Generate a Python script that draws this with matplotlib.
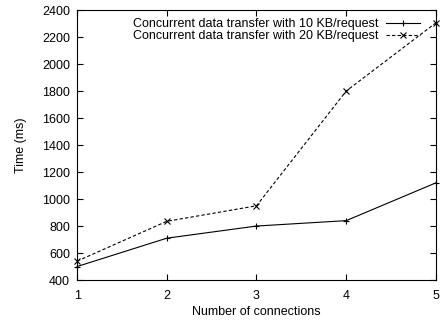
import matplotlib
matplotlib.use("Agg")
import matplotlib.pyplot as plt

# data
connections = [1, 2, 3, 4, 5]
time_10kb = [500, 710, 800, 840, 1120]
time_20kb = [540, 835, 950, 1800, 2305]
label_10kb = "Concurrent data transfer with 10 KB/request"
label_20kb = "Concurrent data transfer with 20 KB/request"

plt.rcParams['font.family'] = ['Liberation Sans', 'DejaVu Sans']
plt.rcParams['font.size'] = 9

fig = plt.figure(figsize=(4.43, 3.23), dpi=100)
ax = fig.add_axes([0.174, 0.133, 0.81, 0.836])

ax.plot(connections, time_10kb, color='black', lw=0.8, marker='+', ms=5,
        mew=0.8, label=label_10kb, clip_on=False)
ax.plot(connections, time_20kb, color='black', lw=0.8, ls=(0, (3, 2)),
        marker='x', ms=4.5, mew=0.8, label=label_20kb, clip_on=False)

ax.set_xlim(1, 5)
ax.set_ylim(400, 2400)
ax.set_xticks(connections)
ax.set_yticks(range(400, 2401, 200))
ax.tick_params(direction='in', top=True, right=True, length=4, width=0.8)
ax.tick_params(axis='x', pad=7)
ax.tick_params(axis='y', pad=5)
for s in ax.spines.values():
    s.set_linewidth(0.8)

ax.set_xlabel("Number of connections", labelpad=3)
ax.set_ylabel("Time (ms)", labelpad=11)

ax.legend(loc='upper right', frameon=False, markerfirst=False,
          handlelength=2.7, handletextpad=0.6, labelspacing=0.0,
          borderaxespad=0.25, bbox_to_anchor=(0.977, 1.0))

fig.savefig("out.png", dpi=100)
